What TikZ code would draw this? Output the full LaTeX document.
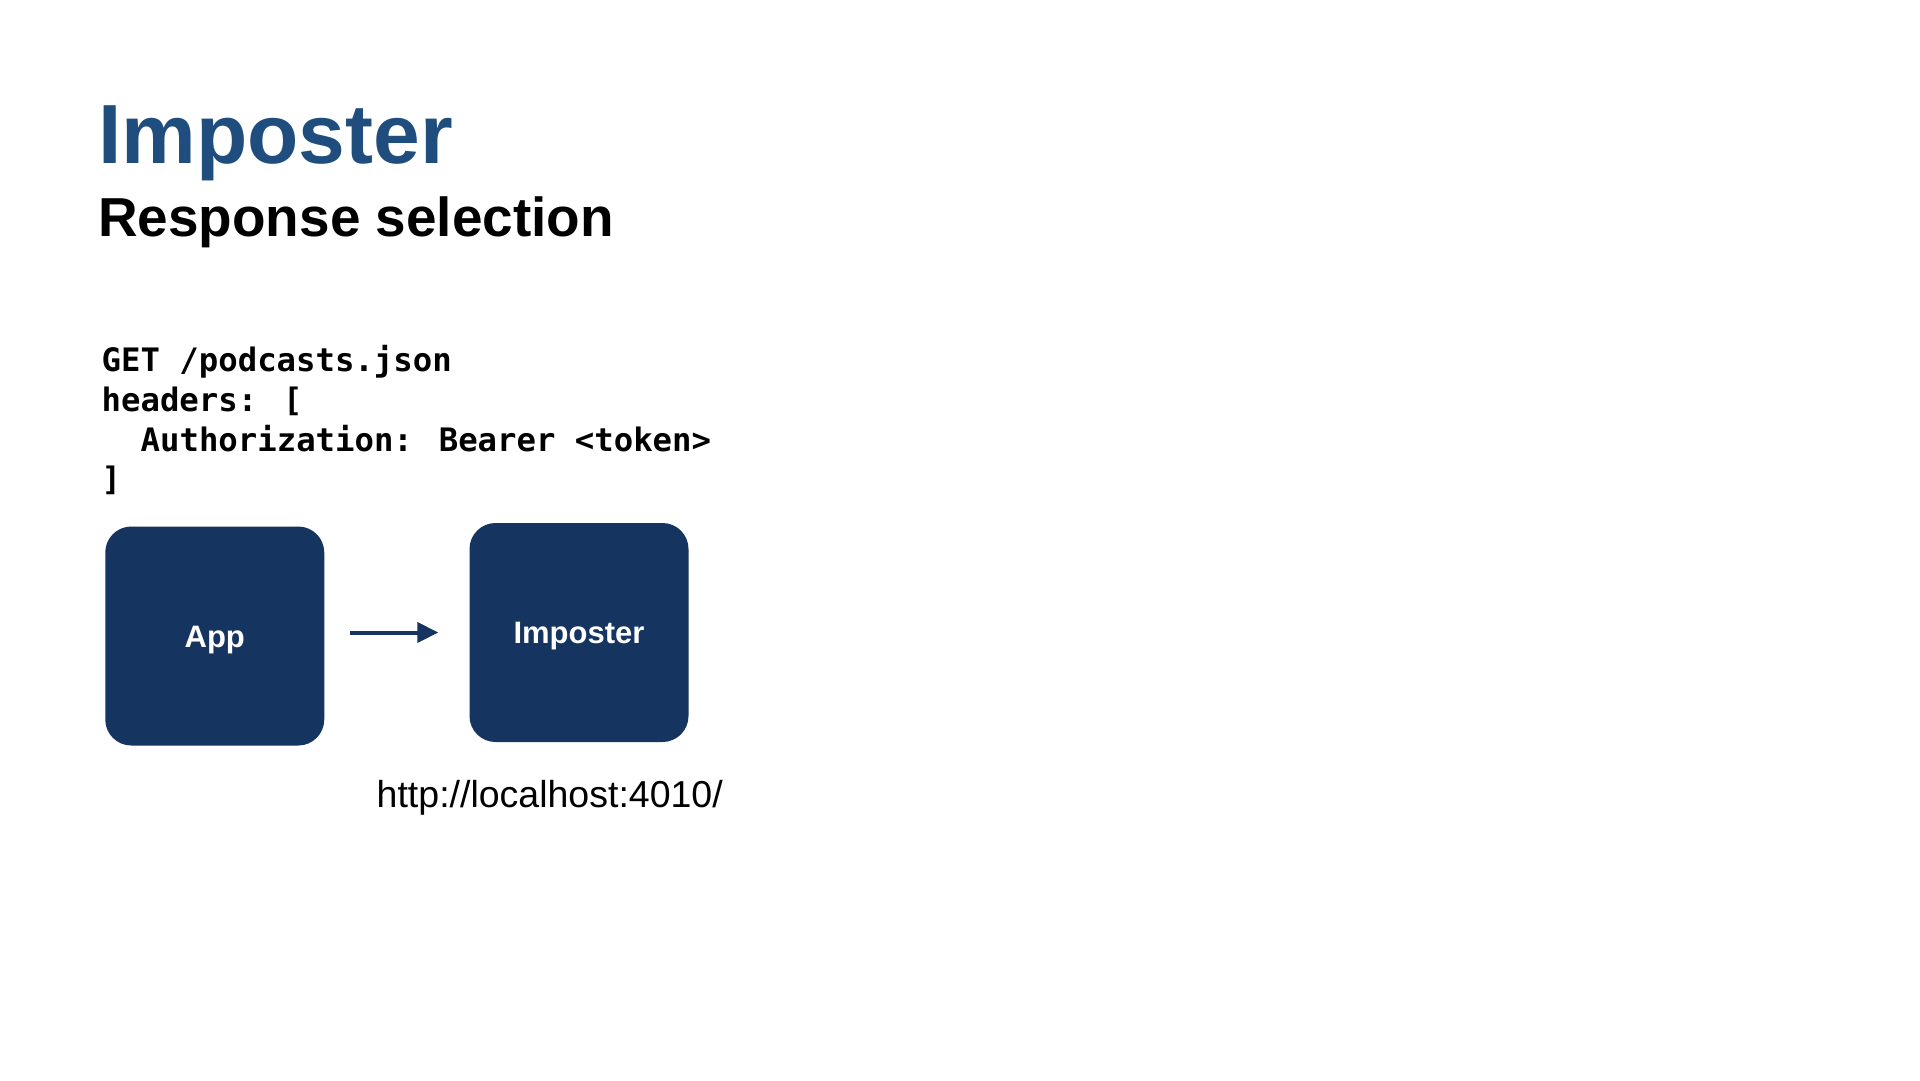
\documentclass[tikz,border=0pt]{standalone}
\usepackage{fontspec}
\setmainfont{Liberation Sans}
\newfontfamily\codefont{DejaVu Sans Mono}
\usetikzlibrary{arrows.meta}
\definecolor{titleblue}{HTML}{1F4E7E}
\definecolor{navy}{HTML}{15345F}
\begin{document}
\begin{tikzpicture}[x=1pt,y=-1pt,
  box/.style={fill=navy, rounded corners=26pt, minimum width=219pt, minimum height=219pt, inner sep=0pt, text=white, text height=22.3pt, text depth=0pt, font=\fontsize{31}{37}\selectfont\bfseries},
  codeline/.style={anchor=base west, inner sep=0pt, font=\fontsize{32.3}{40}\selectfont\codefont\bfseries},
  flow/.style={draw=navy, line width=4pt, -{Triangle[length=21pt,width=20pt]}}]
\useasboundingbox[fill=white] (0,0) rectangle (1920,1080);
\node[anchor=base west, inner sep=0pt, text=titleblue, font=\fontsize{84}{100}\selectfont\bfseries] (title) at (98,163) {Imposter};
\node[anchor=base west, inner sep=0pt, font=\fontsize{54.9}{64}\selectfont\bfseries] (subtitle) at (98,236) {Response selection};
\node[codeline] (c1) at (101.5,371) {GET /podcasts.json};
\node[codeline] (c2) at (101.5,411) {headers: [};
\node[codeline] (c3) at (140.5,451) {Authorization: Bearer <token>};
\node[codeline] (c4) at (101.5,490) {]};
\node[box] (app) at (214.75,636) {App};
\node[box] (imp) at (579,632.5) {Imposter};
\draw[flow, shorten <=25.5pt, shorten >=31pt] (app.east |- imp.west) -- (imp.west);
\node[anchor=base west, inner sep=0pt, font=\fontsize{37.5}{44}\selectfont] (url) at (376.5,807) {http://localhost:4010/};
\end{tikzpicture}
\end{document}
